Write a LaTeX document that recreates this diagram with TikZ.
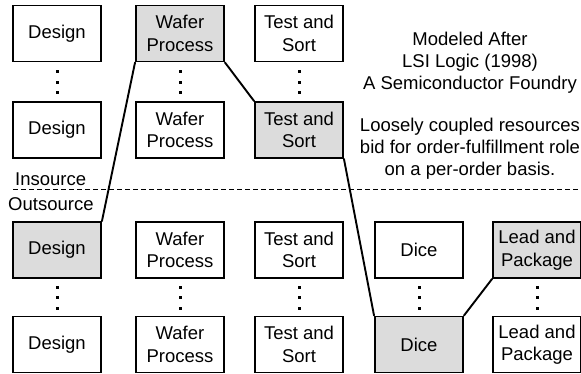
\documentclass[tikz,border=0pt]{standalone}
\usepackage{fontspec}
\setmainfont{Liberation Sans}
\definecolor{boxgray}{HTML}{DCDCDC}
\begin{document}
\begin{tikzpicture}[x=1pt,y=-1pt,
  font=\fontsize{18.5}{22.5}\selectfont,
  stage/.style={draw=black, line width=1.9pt, fill=white, align=center,
                minimum width=88pt, minimum height=56pt, inner sep=0pt},
  picked/.style={stage, fill=boxgray},
  link/.style={line width=1.9pt, line cap=round},
  note/.style={anchor=base, inner sep=0pt}]
\useasboundingbox (0,0) rectangle (581,373);

% upper half: in-house resources
\node[stage]  (d1) at (57,33.5)  {Design};
\node[picked] (w1) at (180,33.5) {Wafer\\Process};
\node[stage]  (t1) at (299,33.5) {Test and\\Sort};
\node[stage]  (d2) at (57,130)   {Design};
\node[stage]  (w2) at (180,130)  {Wafer\\Process};
\node[picked] (t2) at (299,130)  {Test and\\Sort};

% lower half: outside resources
\node[picked] (d3) at (57,250)   {Design};
\node[stage]  (w3) at (180,250)  {Wafer\\Process};
\node[stage]  (t3) at (299,250)  {Test and\\Sort};
\node[stage]  (c3) at (419,250)  {Dice};
\node[picked] (l3) at (537,250)  {Lead and\\Package};
\node[stage]  (d4) at (57,344.5) {Design};
\node[stage]  (w4) at (180,344.5){Wafer\\Process};
\node[stage]  (t4) at (299,344.5){Test and\\Sort};
\node[picked] (c4) at (419,344.5){Dice};
\node[stage]  (l4) at (537,344.5){Lead and\\Package};

% vertical ellipses between the rows of each column
\foreach \cx in {57,180,299} {
  \foreach \dy in {-10.5,0,10.5} {
    \fill (\cx-1.5,82+\dy-1.5) rectangle ++(3,3);
  }
}
\foreach \cx in {57,180,299,419,537} {
  \foreach \dy in {-10.5,0,10.5} {
    \fill (\cx-1.5,297.5+\dy-1.5) rectangle ++(3,3);
  }
}

% order-fulfillment chain
\draw[link] (w1.south west) -- (d3.north east);
\draw[link] (w1.south east) -- (t2.north west);
\draw[link] (t2.south east) -- (c4.north west);
\draw[link] (c4.north east) -- (l3.south west);

% insource / outsource boundary
\coordinate (bl) at (13,189.5);
\coordinate (br) at (581,189.5);
\draw[line width=0.9pt, dash pattern=on 5pt off 3pt] (bl) -- (br);
\node[anchor=base west, inner sep=0pt] (ins) at (15,185) {Insource};
\node[anchor=base west, inner sep=0pt] (outs) at (8,210) {Outsource};

% caption
\node[note] (m1) at (470,45)  {Modeled After};
\node[note] (m2) at (470,67)  {LSI Logic (1998)};
\node[note] (m3) at (470,89)  {A Semiconductor Foundry};
\node[note] (n1) at (470,131) {Loosely coupled resources};
\node[note] (n2) at (470,153) {bid for order-fulfillment role};
\node[note] (n3) at (470,175) {on a per-order basis.};
\end{tikzpicture}
\end{document}
